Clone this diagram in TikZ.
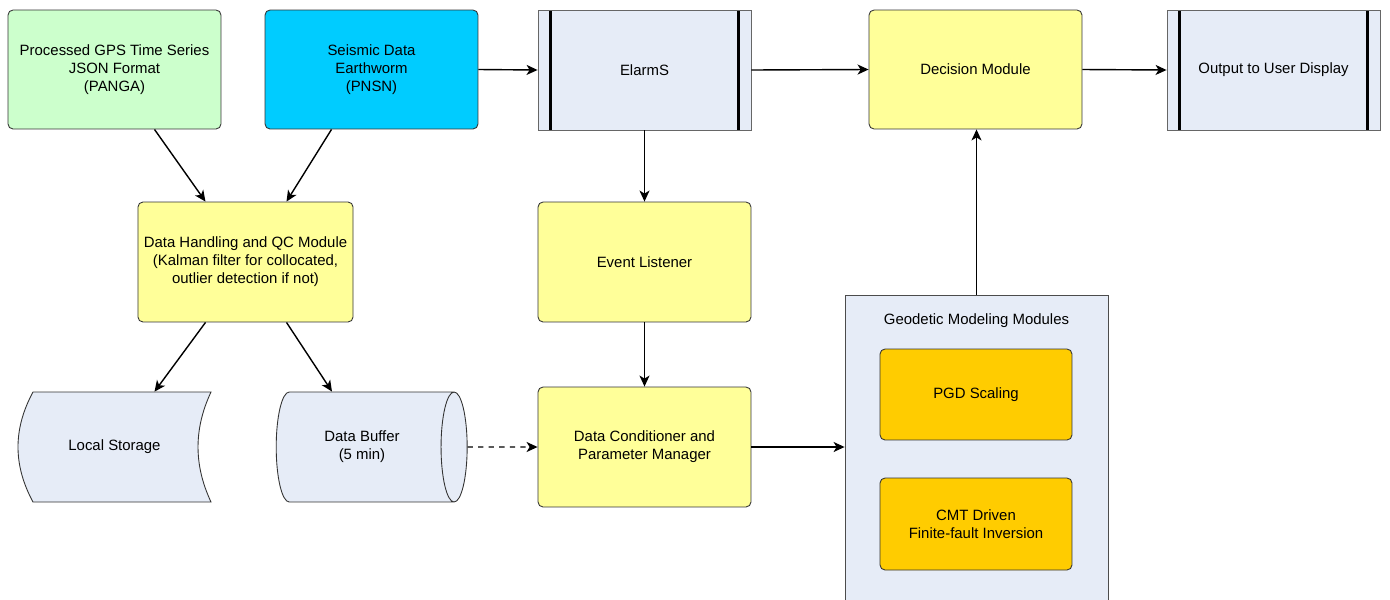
\documentclass[tikz,border=0pt]{standalone}
\usepackage{fontspec}
\setmainfont{Liberation Sans}
\usetikzlibrary{arrows.meta,shapes.geometric,calc}
\definecolor{gpsgreen}{HTML}{CCFFCC}
\definecolor{seisblue}{HTML}{00CCFF}
\definecolor{modyellow}{HTML}{FFFF99}
\definecolor{modorange}{HTML}{FFCC00}
\definecolor{procblue}{HTML}{E6ECF7}
\begin{document}
\begin{tikzpicture}[x=0.02cm,y=-0.02cm,
	font=\fontsize{8.5}{10.2}\selectfont,
	box/.style={draw=black!80,line width=0.5pt,rounded corners=0.1cm,minimum width=4.26cm,minimum height=2.38cm,align=center},
	proc/.style={draw=black!60,line width=0.5pt,fill=procblue,minimum width=4.26cm,minimum height=2.4cm,align=center,
		path picture={
			\draw[black,line width=1.2pt] ([xshift=0.25cm]path picture bounding box.north west) -- ([xshift=0.25cm]path picture bounding box.south west);
			\draw[black,line width=1.2pt] ([xshift=-0.25cm]path picture bounding box.north east) -- ([xshift=-0.25cm]path picture bounding box.south east);}},
	flow/.style={-{Stealth[length=0.22cm,width=0.2cm,inset=0.06cm]},line width=0.8pt}]
	\useasboundingbox (0,0) rectangle (1390,599);
% sources
\node[box,fill=gpsgreen] (gps) at (114.5,69.5) {Processed GPS Time Series\\JSON Format\\(PANGA)};
\node[box,fill=seisblue] (seis) at (371.5,69.5) {Seismic Data\\Earthworm\\(PNSN)};
\node[proc] (elarms) at (644.5,70) {ElarmS};
\node[box,fill=modyellow] (decision) at (975.5,69.5) {Decision Module};
\node[proc] (output) at (1273.5,70) {Output to User Display};
% middle row
\node[box,fill=modyellow,minimum height=2.4cm] (dh) at (245.5,262) {Data Handling and QC Module\\(Kalman filter for collocated,\\outlier detection if not)};
\node[box,fill=modyellow,minimum height=2.4cm] (event) at (644.5,262) {Event Listener};
% storage
\draw[black!80,line width=0.5pt,fill=procblue] (33,392) .. controls (13,429) and (13,465) .. (33,502) -- (211,502) .. controls (193.7,465) and (193.7,429) .. (211,392) -- cycle;
\node[minimum width=3.86cm,minimum height=2.2cm] (lstore) at (114.5,447) {Local Storage};
\node[cylinder,shape aspect=0.6,draw=black!80,line width=0.5pt,fill=procblue,minimum width=2.2cm,minimum height=3.82cm,align=center] (buffer) at (362,447) {Data Buffer\\ (5 min)};
\node[box,fill=modyellow,minimum height=2.4cm] (dc) at (644.5,447) {Data Conditioner and\\Parameter Manager};
% geodetic modules
\node[draw=black!70,line width=0.5pt,fill=procblue,minimum width=5.26cm,minimum height=6.2cm] (geo) at (976.5,450) {};
\node (geotitle) at (976.5,321) {Geodetic Modeling Modules};
\node[box,fill=modorange,minimum width=3.84cm,minimum height=1.82cm] (pgd) at (976,394.5) {PGD Scaling};
\node[box,fill=modorange,minimum width=3.84cm,minimum height=1.84cm] (cmt) at (976,524) {CMT Driven\\Finite-fault Inversion};
% connectors
\draw[flow] ($(gps.south)+(40,0)$) -- ($(dh.north)+(-40,0)$);
\draw[flow] ($(seis.south)+(-40,0)$) -- ($(dh.north)+(41,0)$);
\draw[flow] ($(dh.south)+(-40,0)$) -- ($(lstore.north)+(40,0)$);
\draw[flow] ($(dh.south)+(41,0)$) -- ($(buffer.north)+(-30,0)$);
\draw[flow] (seis.east) -- (elarms.west);
\draw[flow] (elarms.east) -- (decision.west);
\draw[flow] (decision.east) -- (output.west);
\draw[flow] (elarms.south) -- (event.north);
\draw[flow] (event.south) -- (dc.north);
\draw[flow,dashed] (buffer.east) -- (dc.west);
\draw[flow] (dc.east) -- (dc.east -| geo.west);
\draw[flow] (geo.north) -- (geo.north |- decision.south);
\end{tikzpicture}
\end{document}
